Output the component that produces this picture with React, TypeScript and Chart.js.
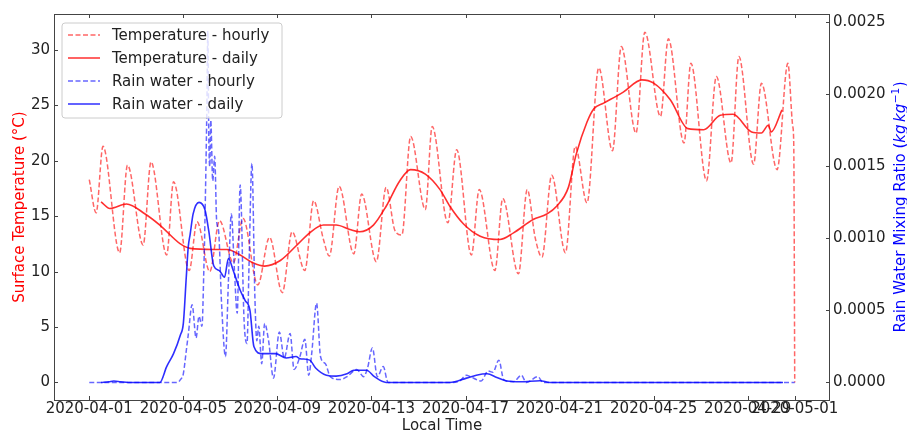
import React, { useEffect, useRef } from "react";
import { Chart, registerables } from "chart.js";

Chart.register(...registerables);

const W = 907;
const H = 432;
const FONT = "DejaVu Sans";

// X axis: hours since 2020-04-01 00:00 local time
const xTickHours = [0, 96, 192, 288, 384, 480, 576, 672, 720];
const xTickLabels = [
  "2020-04-01",
  "2020-04-05",
  "2020-04-09",
  "2020-04-13",
  "2020-04-17",
  "2020-04-21",
  "2020-04-25",
  "2020-04-29",
  "2020-05-01",
];
const tempTicks = [0, 5, 10, 15, 20, 25, 30];
const rainTicks = [0, 0.0005, 0.001, 0.0015, 0.002, 0.0025];

// Temperature - hourly (°C)
const tempHourlyHours = [
  0, 7, 14, 31, 39, 55, 63, 79, 86, 102, 110, 123, 133, 147, 157, 172, 184, 197,
  207, 220, 229, 239, 245, 255, 270, 278, 293, 303, 312, 319, 328, 343, 350, 366,
  375, 390, 398, 414, 422, 438, 447, 455, 462, 472, 486, 496, 508, 520, 534, 543,
  558, 567, 583, 591, 607, 614, 630, 640, 655, 663, 678, 686, 702, 713, 718, 719,
  720,
];
const tempHourlyValues = [
  18.3, 15.3, 21.3, 11.7, 19.6, 12.4, 19.9, 11.5, 18.1, 10.1, 14.5, 10.0, 14.6,
  10.8, 14.8, 8.8, 13.1, 8.1, 13.6, 10.1, 16.4, 12.9, 11.4, 17.7, 11.6, 17.0,
  10.9, 17.6, 13.7, 13.3, 22.2, 15.6, 23.1, 14.4, 21.0, 11.5, 17.4, 10.1, 16.6,
  9.8, 17.4, 13.1, 11.3, 18.7, 11.7, 21.3, 16.2, 28.4, 20.9, 30.3, 22.5, 31.6,
  24.0, 31.0, 21.6, 28.8, 18.2, 27.6, 19.8, 29.4, 19.7, 27.0, 19.2, 28.8, 23.1,
  21.5, 0,
];

// Temperature - daily (°C)
const tempDailyHours = [
  12, 21, 38, 57, 72, 93, 103, 127, 141, 154, 167, 179, 195, 212, 225, 239, 252,
  266, 276, 290, 303, 317, 328, 343, 358, 368, 382, 399, 419, 433, 453, 467, 477,
  489, 497, 508, 515, 525, 545, 564, 576, 593, 611, 627, 644, 657, 676, 686, 693,
  696, 707,
];
const tempDailyValues = [
  16.3, 15.7, 16.1, 15.2, 14.2, 12.5, 12.1, 12.0, 12.0, 11.5, 10.8, 10.5, 11.0,
  12.4, 13.5, 14.2, 14.2, 13.8, 13.6, 14.2, 15.9, 18.2, 19.2, 18.8, 17.4, 15.9,
  14.3, 13.2, 12.9, 13.5, 14.7, 15.2, 15.9, 17.6, 20.6, 23.5, 24.7, 25.2, 26.2,
  27.3, 27.0, 25.5, 22.9, 22.8, 24.1, 24.2, 22.6, 22.5, 23.2, 22.6, 24.6,
];

// Rain water - hourly (kg/kg)
const rainHourlyHours = [
  0, 90, 93, 96, 99, 101, 105, 109, 112, 115, 117, 118, 120, 121, 122, 123, 124,
  126, 128, 130, 132, 135, 139, 142, 145, 148, 151, 154, 158, 161, 163, 166, 169,
  171, 173, 176, 179, 183, 188, 194, 199, 205, 209, 215, 220, 224, 227, 232, 236,
  241, 246, 256, 263, 273, 280, 284, 289, 294, 300, 305, 370, 378, 385, 389, 400,
  407, 412, 418, 423, 433, 441, 446, 458, 463, 720,
];
const rainHourlyValues = [
  0, 0, 0.00002, 0.00006, 0.00022, 0.00033, 0.00054, 0.00031, 0.00046, 0.00039,
  0.0008, 0.0011, 0.0019, 0.00244, 0.0017, 0.0015, 0.00182, 0.0014, 0.00157,
  0.00112, 0.00105, 0.00055, 0.00018, 0.0007, 0.00117, 0.0008, 0.00048, 0.00137,
  0.00043, 0.00027, 0.0008, 0.00152, 0.0006, 0.00029, 0.00039, 0.00013, 0.00041,
  0.00029, 0.00003, 0.00035, 0.00017, 0.00034, 0.00009, 0.00018, 0.0003, 0.00005,
  0.0002, 0.00055, 0.00018, 0.00013, 0.00004, 0.00002, 0.00004, 0.00009, 0.00004,
  0.0001, 0.00024, 0.00004, 0.00011, 0, 0, 0.00001, 0.00005, 0.00004, 0.00001,
  0.00008, 0.00007, 0.000155, 0.00002, 0.000005, 0.00005, 0, 0.00004, 0, 0,
];

// Rain water - daily (kg/kg)
const rainDailyHours = [
  12, 20, 25, 32, 40, 72, 79, 86, 93, 96, 99, 101, 103, 106, 112, 118, 122, 127,
  133, 138, 142, 147, 154, 159, 164, 168, 176, 190, 201, 211, 215, 225, 231, 242,
  252, 263, 270, 283, 291, 303, 368, 385, 395, 406, 416, 426, 440, 460, 470, 708,
];
const rainDailyValues = [
  0, 0.000005, 0.00001, 0.000005, 0, 0, 0.00011, 0.0002, 0.00033, 0.00041,
  0.00073, 0.00094, 0.00103, 0.00117, 0.00125, 0.0012, 0.00105, 0.00081,
  0.000775, 0.00073, 0.00086, 0.000775, 0.00064, 0.00057, 0.0005, 0.00025,
  0.0002, 0.0002, 0.00017, 0.00018, 0.000165, 0.000155, 0.0001, 0.00005,
  0.000044, 0.00006, 0.000085, 0.000085, 0.00004, 0, 0, 0.00003, 0.00005,
  0.00006, 0.000035, 0.00001, 0.000005, 0.000012, 0, 0,
];

const RED_DASH = "rgba(255,0,0,0.6)";
const RED_SOLID = "rgba(255,0,0,0.82)";
const BLUE_DASH = "rgba(0,0,255,0.6)";
const BLUE_SOLID = "rgba(0,0,255,0.82)";
const DASH = [5, 2.5];

const legendItems = [
  { label: "Temperature - hourly", color: RED_DASH, dash: DASH },
  { label: "Temperature - daily", color: RED_SOLID, dash: [] as number[] },
  { label: "Rain water - hourly", color: BLUE_DASH, dash: DASH },
  { label: "Rain water - daily", color: BLUE_SOLID, dash: [] as number[] },
];

function pts(xs: number[], ys: number[]) {
  return xs.map((x, i) => ({ x, y: ys[i] }));
}

const decorPlugin = {
  id: "decor",
  afterDraw(chart: any) {
    const { ctx, chartArea: a, scales } = chart;
    ctx.save();
    // frame
    ctx.strokeStyle = "#444";
    ctx.lineWidth = 1;
    ctx.strokeRect(a.left + 0.5, a.top + 0.5, a.right - a.left - 1, a.bottom - a.top);
    // inward ticks
    const L = 4;
    ctx.beginPath();
    for (const h of xTickHours) {
      const px = Math.round(scales.x.getPixelForValue(h)) + 0.5;
      ctx.moveTo(px, a.bottom);
      ctx.lineTo(px, a.bottom - L);
      ctx.moveTo(px, a.top);
      ctx.lineTo(px, a.top + L);
    }
    for (const v of tempTicks) {
      const py = Math.round(scales.y.getPixelForValue(v)) + 0.5;
      ctx.moveTo(a.left, py);
      ctx.lineTo(a.left + L, py);
    }
    for (const v of rainTicks) {
      const py = Math.round(scales.y1.getPixelForValue(v)) + 0.5;
      ctx.moveTo(a.right, py);
      ctx.lineTo(a.right - L, py);
    }
    ctx.stroke();

    // x title
    ctx.fillStyle = "#222";
    ctx.font = `15px ${FONT}`;
    ctx.textAlign = "center";
    ctx.textBaseline = "alphabetic";
    ctx.fillText("Local Time", (a.left + a.right) / 2, 430);

    const yc = (a.top + a.bottom) / 2;
    // left title
    ctx.save();
    ctx.translate(24, yc);
    ctx.rotate(-Math.PI / 2);
    ctx.fillStyle = "#ff0000";
    ctx.font = `15px ${FONT}`;
    ctx.textAlign = "center";
    ctx.fillText("Surface Temperature (\u00b0C)", 0, 0);
    ctx.restore();

    // right title with italic units and superscript
    ctx.save();
    ctx.translate(905, yc);
    ctx.rotate(-Math.PI / 2);
    ctx.fillStyle = "#0000ff";
    ctx.textAlign = "left";
    const parts = [
      { t: "Rain Water Mixing Ratio (", f: `15px ${FONT}`, dy: 0, gap: 0 },
      { t: "kg", f: `italic 15px ${FONT}`, dy: 0, gap: 2.5 },
      { t: "kg", f: `italic 15px ${FONT}`, dy: 0, gap: 0.5 },
      { t: "\u22121", f: `10.5px ${FONT}`, dy: -6.5, gap: 0.5 },
      { t: ")", f: `15px ${FONT}`, dy: 0, gap: 0 },
    ];
    let total = 0;
    for (const p of parts) {
      ctx.font = p.f;
      total += ctx.measureText(p.t).width + p.gap;
    }
    let cx = -total / 2;
    for (const p of parts) {
      ctx.font = p.f;
      ctx.fillText(p.t, cx, p.dy);
      cx += ctx.measureText(p.t).width + p.gap;
    }
    ctx.restore();

    // legend
    const lx = a.left + 8;
    const ly = a.top + 9;
    const lw = 220;
    const lh = 95;
    ctx.beginPath();
    const r = 3;
    ctx.moveTo(lx + r, ly);
    ctx.lineTo(lx + lw - r, ly);
    ctx.arcTo(lx + lw, ly, lx + lw, ly + r, r);
    ctx.lineTo(lx + lw, ly + lh - r);
    ctx.arcTo(lx + lw, ly + lh, lx + lw - r, ly + lh, r);
    ctx.lineTo(lx + r, ly + lh);
    ctx.arcTo(lx, ly + lh, lx, ly + lh - r, r);
    ctx.lineTo(lx, ly + r);
    ctx.arcTo(lx, ly, lx + r, ly, r);
    ctx.closePath();
    ctx.fillStyle = "rgba(255,255,255,0.8)";
    ctx.fill();
    ctx.strokeStyle = "#cccccc";
    ctx.lineWidth = 1;
    ctx.stroke();

    ctx.font = `15px ${FONT}`;
    ctx.textAlign = "left";
    ctx.textBaseline = "middle";
    legendItems.forEach((it, i) => {
      const y = ly + 12 + i * 23;
      ctx.beginPath();
      ctx.setLineDash(it.dash);
      ctx.strokeStyle = it.color;
      ctx.lineWidth = 1.5;
      ctx.moveTo(lx + 6, y);
      ctx.lineTo(lx + 38, y);
      ctx.stroke();
      ctx.setLineDash([]);
      ctx.fillStyle = "#222";
      ctx.fillText(it.label, lx + 50, y + 1);
    });
    ctx.restore();
  },
};

export default function App() {
  const ref = useRef<HTMLCanvasElement>(null);

  useEffect(() => {
    const canvas = ref.current;
    if (!canvas) return;
    Chart.defaults.font.family = FONT;
    Chart.defaults.font.size = 15;
    const tickFont = { family: FONT, size: 15 };
    const chart = new Chart(canvas, {
      type: "line",
      data: {
        datasets: [
          {
            label: "Temperature - hourly",
            data: pts(tempHourlyHours, tempHourlyValues),
            borderColor: RED_DASH,
            borderDash: DASH,
            borderWidth: 1.5,
            pointRadius: 0,
            cubicInterpolationMode: "monotone",
            yAxisID: "y",
            order: 3,
          },
          {
            label: "Temperature - daily",
            data: pts(tempDailyHours, tempDailyValues),
            borderColor: RED_SOLID,
            borderWidth: 1.6,
            pointRadius: 0,
            cubicInterpolationMode: "monotone",
            yAxisID: "y",
            order: 2,
          },
          {
            label: "Rain water - hourly",
            data: pts(rainHourlyHours, rainHourlyValues),
            borderColor: BLUE_DASH,
            borderDash: DASH,
            borderWidth: 1.5,
            pointRadius: 0,
            cubicInterpolationMode: "monotone",
            yAxisID: "y1",
            order: 1,
          },
          {
            label: "Rain water - daily",
            data: pts(rainDailyHours, rainDailyValues),
            borderColor: BLUE_SOLID,
            borderWidth: 1.6,
            pointRadius: 0,
            cubicInterpolationMode: "monotone",
            yAxisID: "y1",
            order: 0,
          },
        ],
      },
      options: {
        responsive: false,
        animation: false,
        devicePixelRatio: 1,
        layout: { padding: { top: 14, left: 0, right: 0, bottom: 0 } },
        plugins: {
          legend: { display: false },
          tooltip: { enabled: false },
          title: { display: false },
        },
        scales: {
          x: {
            type: "linear",
            min: -36,
            max: 756,
            grid: { display: false, drawTicks: false },
            border: { display: false },
            afterBuildTicks: (s: any) => {
              s.ticks = xTickHours.map((v) => ({ value: v }));
            },
            afterFit: (s: any) => {
              s.height = 32;
            },
            ticks: {
              autoSkip: false,
              maxRotation: 0,
              minRotation: 0,
              padding: 0,
              color: "#222",
              font: tickFont,
              callback: (_v: any, i: number) => xTickLabels[i],
            },
          },
          y: {
            type: "linear",
            position: "left",
            min: -1.583,
            max: 33.243,
            grid: { display: false, drawTicks: false },
            border: { display: false },
            afterBuildTicks: (s: any) => {
              s.ticks = tempTicks.map((v) => ({ value: v }));
            },
            afterFit: (s: any) => {
              s.width = 54;
            },
            ticks: {
              padding: 4,
              color: "#222",
              font: tickFont,
              callback: (v: any) => String(v),
            },
          },
          y1: {
            type: "linear",
            position: "right",
            min: -0.0001218,
            max: 0.0025578,
            grid: { display: false, drawTicks: false },
            border: { display: false },
            afterBuildTicks: (s: any) => {
              s.ticks = rainTicks.map((v) => ({ value: v }));
            },
            afterFit: (s: any) => {
              s.width = 77;
            },
            ticks: {
              padding: 3,
              color: "#222",
              font: tickFont,
              callback: (v: any) => Number(v).toFixed(4),
            },
          },
        },
      },
      plugins: [decorPlugin],
    } as any);
    return () => chart.destroy();
  }, []);

  return (
    <div style={{ position: "absolute", left: 0, top: 0, width: W, height: H }}>
      <canvas ref={ref} width={W} height={H} style={{ width: W, height: H, display: "block" }} />
    </div>
  );
}
